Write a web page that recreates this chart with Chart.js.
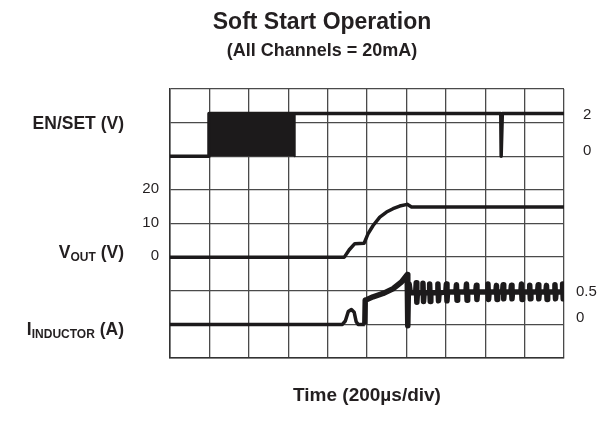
<!DOCTYPE html>
<html>
<head>
<meta charset="utf-8">
<script src="https://cdn.jsdelivr.net/npm/chart.js@4/dist/chart.umd.min.js"></script>
<style>
  html, body { margin: 0; padding: 0; background: #ffffff; }
  #wrap { width: 599px; height: 437px; }
</style>
</head>
<body>
<div id="wrap"><canvas id="c" width="599" height="437"></canvas></div>
<script>
// ---------------- DATA ----------------
// time in microseconds, 200 us per division, 10 divisions
const title = "Soft Start Operation";
const subtitle = "(All Channels = 20mA)";
const xAxisTitle = "Time (200\u00B5s/div)";

// EN/SET trace (V)
const enT = [0, 198, 198, 1679, 1681, 1685, 1687, 2000];
const enV = [0, 0, 2, 2, 0, 0, 2, 2];
// EN/SET PWM burst (solid block from 0 V to 2 V)
const burstT = [198, 198, 633, 633];
const burstV = [0, 2, 2, 0];

// VOUT trace (V)
const voutT = [0, 885, 910, 938, 985, 1005, 1031, 1065, 1099, 1132, 1166, 1204, 1226, 2000];
const voutV = [0, 0, 2.2, 4, 4.1, 6.9, 9.4, 11.9, 13.4, 14.4, 15.2, 15.7, 14.9, 14.9];

// Inductor current, start-up part (A)
const ilT = [0, 875, 890, 905, 921, 935, 945, 955, 989];
const ilA = [0, 0, 0.05, 0.19, 0.22, 0.18, 0.04, 0, 0];
// Inductor current, ramp and ringing part (A)
const ilRingT = [989, 991, 1000, 1031, 1082, 1132, 1175, 1204, 1207, 1210, 1214, 1220,
  1247, 1250, 1253, 1256, 1281, 1284, 1287, 1290, 1315, 1318, 1321, 1324,
  1357, 1360, 1363, 1366, 1400, 1403, 1406, 1409, 1451, 1454, 1457, 1460,
  1502, 1505, 1508, 1511, 1552, 1555, 1558, 1561, 1611, 1614, 1617, 1620,
  1654, 1657, 1660, 1663, 1688, 1691, 1694, 1697, 1730, 1733, 1736, 1739,
  1781, 1784, 1787, 1790, 1823, 1826, 1829, 1832, 1866, 1869, 1872, 1875,
  1908, 1911, 1914, 1917, 1951, 1954, 1957, 1960, 1990, 1993, 1996, 2000];
const ilRingA = [0, 0.36, 0.37, 0.41, 0.46, 0.53, 0.63, 0.74, -0.02, 0.5, 0.6, 0.47,
  0.47, 0.62, 0.33, 0.47, 0.47, 0.61, 0.34, 0.47, 0.47, 0.60, 0.34, 0.47,
  0.47, 0.60, 0.35, 0.47, 0.48, 0.60, 0.35, 0.48, 0.48, 0.59, 0.36, 0.48,
  0.48, 0.60, 0.36, 0.48, 0.48, 0.58, 0.37, 0.48, 0.48, 0.60, 0.37, 0.48,
  0.48, 0.58, 0.37, 0.48, 0.48, 0.59, 0.38, 0.48, 0.48, 0.58, 0.38, 0.48,
  0.48, 0.60, 0.37, 0.48, 0.48, 0.58, 0.38, 0.48, 0.48, 0.59, 0.38, 0.48,
  0.48, 0.58, 0.37, 0.48, 0.48, 0.59, 0.38, 0.48, 0.48, 0.60, 0.38, 0.48];

// Tick labels
const enTicks = [2, 0];
const voutTicks = [20, 10, 0];
const ilTicks = [0.5, 0];
// Channel labels: [main, subscript, suffix]
const channelLabels = [
  ["EN/SET (V)", "", ""],
  ["V", "OUT", " (V)"],
  ["I", "INDUCTOR", " (A)"]
];

// ---------------- STYLE ----------------
const traceColor = "#1c1a1b";
const gridColor = "#4a4a4a";
const FONT = "'Liberation Sans', Arial, Helvetica, sans-serif";

function pts(xs, ys) { return xs.map((x, i) => ({ x: x, y: ys[i] })); }

const textPlugin = {
  id: "textPlugin",
  afterDraw(chart) {
    const ctx = chart.ctx;
    const s = chart.scales;
    ctx.save();
    ctx.fillStyle = "#231f20";
    ctx.textBaseline = "middle";
    // titles
    ctx.textAlign = "center";
    ctx.font = "bold 23px " + FONT;
    ctx.fillText(title, 322, 23);
    ctx.font = "bold 18px " + FONT;
    ctx.fillText(subtitle, 322, 51);
    // x axis title
    ctx.font = "bold 19px " + FONT;
    ctx.fillText(xAxisTitle, 367, 396);

    // tick labels
    ctx.font = "15px " + FONT;
    ctx.textAlign = "left";
    const enOff = [1, -5];
    enTicks.forEach((v, i) => ctx.fillText(String(v), 583, s.yEN.getPixelForValue(v) + enOff[i]));
    const ilOff = [1, -7];
    ilTicks.forEach((v, i) => ctx.fillText(String(v), 576, s.yI.getPixelForValue(v) + ilOff[i]));
    ctx.textAlign = "right";
    voutTicks.forEach(v => ctx.fillText(String(v), 159, s.yV.getPixelForValue(v) - 1));

    // channel labels (right aligned at x=124)
    const labelY = [123, 252, 329];
    const mainF = "bold 17.5px " + FONT;
    const subF = "bold 12px " + FONT;
    ctx.textAlign = "left";
    ctx.textBaseline = "alphabetic";
    channelLabels.forEach((lab, i) => {
      ctx.font = mainF;
      const w0 = ctx.measureText(lab[0]).width;
      const w2 = ctx.measureText(lab[2]).width;
      ctx.font = subF;
      const w1 = ctx.measureText(lab[1]).width;
      let x = 124 - (w0 + w1 + w2);
      const base = labelY[i] + 6;
      ctx.font = mainF;
      ctx.fillText(lab[0], x, base);
      x += w0;
      if (lab[1]) {
        ctx.font = subF;
        ctx.fillText(lab[1], x, base + 3);
        x += w1;
      }
      ctx.font = mainF;
      ctx.fillText(lab[2], x, base);
    });
    ctx.restore();
  }
};

const lineDs = (label, data, axis, width) => ({
  label: label,
  data: data,
  yAxisID: axis,
  borderColor: traceColor,
  borderWidth: width || 3.5,
  pointRadius: 0,
  tension: 0,
  fill: false,
  borderJoinStyle: "round",
  borderCapStyle: "butt"
});

new Chart(document.getElementById("c"), {
  type: "line",
  data: {
    datasets: [
      Object.assign(lineDs("EN burst", pts(burstT, burstV), "yEN", 2), { fill: "origin", backgroundColor: traceColor }),
      lineDs("EN/SET", pts(enT, enV), "yEN"),
      lineDs("VOUT", pts(voutT, voutV), "yV"),
      lineDs("IINDUCTOR", pts(ilT, ilA), "yI"),
      lineDs("IINDUCTOR ringing", pts(ilRingT, ilRingA), "yI", 5.5)
    ]
  },
  options: {
    responsive: false,
    animation: false,
    devicePixelRatio: 1,
    layout: { padding: { left: 170, right: 35, top: 89, bottom: 79 } },
    plugins: { legend: { display: false }, tooltip: { enabled: false }, title: { display: false } },
    scales: {
      x: {
        type: "linear", min: 0, max: 2000,
        ticks: { display: false, stepSize: 200 },
        grid: { color: gridColor, lineWidth: 1.3, drawTicks: false },
        border: { display: true, color: "#333", width: 1.5 }
      },
      yGrid: {
        type: "linear", position: "left", min: 0, max: 8,
        ticks: { display: false, stepSize: 1 },
        grid: { color: gridColor, lineWidth: 1.3, drawTicks: false },
        border: { display: true, color: "#333", width: 1.5 }
      },
      yEN: { type: "linear", display: false, min: -9.43, max: 3.14 },
      yV: { type: "linear", display: false, min: -30, max: 50 },
      yI: { type: "linear", display: false, min: -0.5, max: 3.5 }
    }
  },
  plugins: [textPlugin]
});
</script>
</body>
</html>
